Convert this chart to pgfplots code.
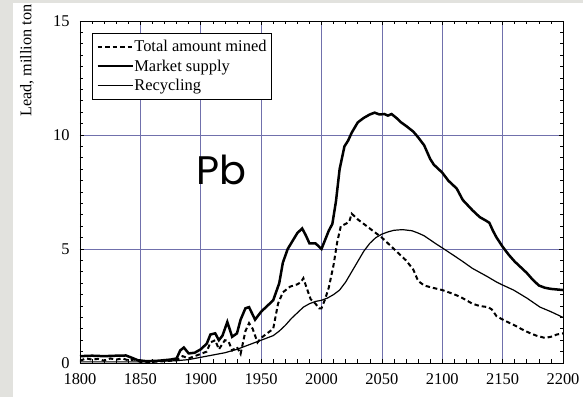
\documentclass[border=0pt]{standalone}
\usepackage{pgfplots}
\pgfplotsset{compat=1.18}
\usepackage{fontspec}
\setmainfont{Liberation Serif}
\newfontfamily\pbfont{Poppins}
\definecolor{gridblue}{RGB}{112,112,172}
\definecolor{slidegray}{RGB}{226,226,222}

\begin{document}
\begin{tikzpicture}
\begin{axis}[
  scale only axis,
  width=483bp, height=342bp,
  xmin=1800, xmax=2200, ymin=0, ymax=15,
  xtick={1800,1850,...,2200},
  ytick={0,5,10,15},
  minor x tick num=4,
  minor y tick num=9,
  tick align=inside,
  major tick length=4bp,
  minor tick length=3.5bp,
  tick style={black, line width=0.6bp},
  grid=major,
  major grid style={gridblue, line width=0.75bp},
  axis line style={black, line width=0.9bp},
  /pgf/number format/assume math mode=true,
  /pgf/number format/1000 sep={},
  x tick label style={font=\fontsize{16.5}{16.5}\selectfont, yshift=-7bp},
  y tick label style={font=\fontsize{16.5}{16.5}\selectfont, xshift=-7bp},
  ylabel={Lead, million ton},
  ylabel style={at={(rel axis cs:-0.110,0.884)}, anchor=center, rotate=0,
    font=\fontsize{16.3}{16.3}\selectfont},
  legend cell align=left,
  legend image code/.code={\draw[#1] (0bp,0bp) -- (35bp,0bp);},
  legend style={at={(rel axis cs:0.025,0.965)}, anchor=north west,
    draw=black, line width=0.6bp, fill=white,
    font=\fontsize{16.5}{16.5}\selectfont,
    inner xsep=4bp, inner ysep=4bp, row sep=0bp,
    nodes={inner xsep=0.5bp, inner ysep=3.2bp}},
]
\coordinate (O) at (rel axis cs:0,0);

% total amount of lead mined
\addplot[black, line width=2bp, dash pattern=on 4.5bp off 3bp] coordinates {
(1800,0.10) (1805,0.20) (1810,0.15) (1815,0.18) (1820,0.10) (1825,0.20)
(1830,0.15) (1835,0.20) (1840,0.12) (1845,0.15) (1850,0.05) (1860,0.05)
(1870,0.08) (1880,0.12) (1885,0.30) (1890,0.20) (1895,0.30) (1900,0.40)
(1905,0.50) (1908,0.90) (1912,1.00) (1915,0.60) (1920,1.00) (1923,0.95)
(1926,0.55) (1930,0.70) (1933,0.40) (1937,1.40) (1940,1.75) (1943,1.50)
(1947,0.90) (1950,1.10) (1955,1.30) (1960,1.50) (1964,2.60) (1968,3.10)
(1974,3.35) (1980,3.45) (1983,3.55) (1985,3.72) (1988,3.25) (1991,2.80)
(1995,2.60) (1998,2.40) (2000,2.40) (2003,2.80) (2006,3.30) (2010,4.30)
(2013,5.30) (2016,6.00) (2020,6.10) (2023,6.20) (2025,6.55) (2030,6.30)
(2040,5.90) (2050,5.50) (2060,5.00) (2070,4.50) (2076,4.10) (2080,3.60)
(2085,3.40) (2092,3.30) (2100,3.20) (2108,3.05) (2115,2.90) (2125,2.60)
(2131,2.50) (2138,2.45) (2141,2.35) (2145,2.05) (2152,1.85) (2160,1.65)
(2167,1.45) (2173,1.30) (2178,1.20) (2185,1.10) (2190,1.15) (2195,1.25)
(2200,1.30)
};
\addlegendentry{Total amount mined}

% market supply
\addplot[black, line width=2.5bp] coordinates {
(1800,0.30) (1810,0.32) (1820,0.30) (1830,0.32) (1838,0.33) (1842,0.25)
(1848,0.12) (1855,0.08) (1865,0.10) (1875,0.15) (1880,0.20) (1883,0.55)
(1886,0.68) (1890,0.42) (1895,0.45) (1900,0.60) (1905,0.85) (1908,1.25)
(1912,1.30) (1915,1.00) (1918,1.20) (1922,1.80) (1926,1.15) (1930,1.30)
(1933,1.90) (1937,2.40) (1940,2.45) (1945,1.90) (1950,2.25) (1955,2.50)
(1960,2.75) (1965,3.50) (1968,4.40) (1972,5.00) (1976,5.35) (1980,5.70)
(1984,5.90) (1987,5.60) (1990,5.25) (1995,5.25) (2000,5.00) (2003,5.40)
(2006,5.80) (2009,6.10) (2012,7.10) (2015,8.50) (2019,9.50) (2022,9.75)
(2025,10.10) (2030,10.55) (2035,10.75) (2040,10.90) (2044,10.98) (2048,10.90)
(2052,10.92) (2055,10.85) (2058,10.92) (2062,10.75) (2066,10.55) (2070,10.40)
(2076,10.15) (2080,9.90) (2085,9.55) (2090,8.95) (2093,8.70) (2100,8.35)
(2105,8.00) (2112,7.65) (2117,7.15) (2125,6.70) (2131,6.40) (2136,6.25)
(2139,6.15) (2142,5.80) (2145,5.50) (2150,5.10) (2155,4.75) (2160,4.45)
(2165,4.20) (2170,3.95) (2175,3.65) (2180,3.40) (2185,3.30) (2190,3.25)
(2200,3.20)
};
\addlegendentry{Market supply}

% recycling
\addplot[black, line width=1.2bp] coordinates {
(1800,0.05) (1850,0.05) (1870,0.08) (1880,0.10) (1890,0.15) (1900,0.25)
(1910,0.35) (1920,0.45) (1930,0.60) (1940,0.80) (1950,1.00) (1955,1.10)
(1960,1.20) (1965,1.40) (1970,1.65) (1975,1.95) (1980,2.20) (1985,2.45)
(1990,2.60) (1995,2.70) (2000,2.75) (2005,2.85) (2010,3.00) (2015,3.20)
(2020,3.55) (2025,4.00) (2030,4.45) (2035,4.90) (2040,5.25) (2045,5.50)
(2050,5.65) (2055,5.75) (2060,5.82) (2067,5.85) (2075,5.80) (2080,5.70)
(2085,5.58) (2090,5.40) (2095,5.22) (2100,5.05) (2110,4.70) (2117,4.45)
(2125,4.15) (2137,3.80) (2145,3.55) (2150,3.42) (2159,3.20) (2170,2.85)
(2181,2.45) (2190,2.25) (2200,2.00)
};
\addlegendentry{Recycling}

\node[font=\pbfont\fontsize{40}{40}\selectfont, inner sep=0pt]
  at (axis cs:1917,8.45) {Pb};
\end{axis}
% slide margin and page extent
\fill[slidegray] (O) ++(-80bp,-34bp) rectangle ++(13bp,397bp);
\fill[slidegray] (O) ++(-80bp,360bp) rectangle ++(583bp,3bp);
\path[use as bounding box] (O) ++(-80bp,-34bp) rectangle ++(583bp,397bp);
\end{tikzpicture}
\end{document}
